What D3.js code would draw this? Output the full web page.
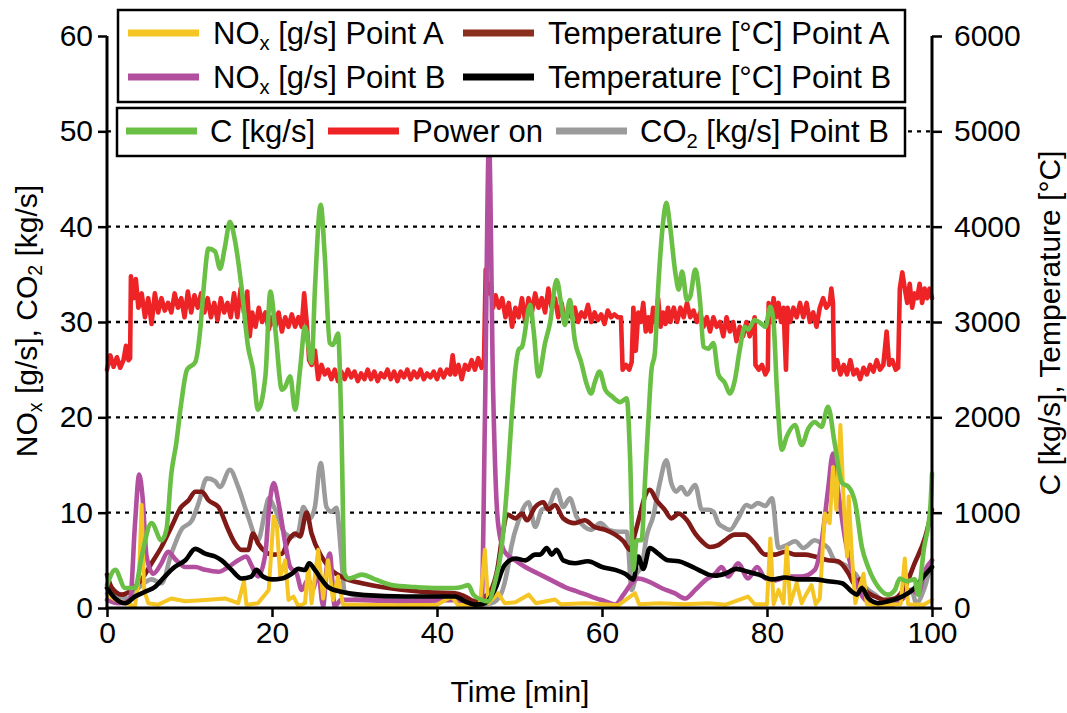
<!DOCTYPE html>
<html><head><meta charset="utf-8">
<script src="https://cdn.jsdelivr.net/npm/d3@7"></script>
<style>
html,body{margin:0;padding:0;background:#fff;}
text{font-family:"Liberation Sans",Arial,sans-serif;fill:#000;}
</style></head>
<body><svg id="c" width="1067" height="713"></svg>
<script>
// ---- data ----
const leftTicks = [0,10,20,30,40,50,60];
const rightTicks = [0,1000,2000,3000,4000,5000,6000];
const xTicks = [0,20,40,60,80,100];
const gridValues = [10,20,30,40,50];

// NOx [g/s] Point A (left axis)
const noxA = [[0,1.4],[1.0,0.85],[2.2,0.5],[3.4,0.2],[3.9,3.6],[4.2,10.8],[4.5,1.9],[5.0,0.5],[6.2,0.35],[7.8,1.0],[9.5,0.7],[11.9,0.85],[14.3,1.0],[15.9,0.5],[16.6,2.8],[16.9,0.35],[18.3,0.5],[19.6,1.9],[20.2,9.6],[20.6,8.5],[21.0,3.3],[21.6,5.0],[22.0,0.85],[22.6,1.2],[23.2,0.2],[24.0,0.5],[24.4,4.5],[24.8,0.5],[25.6,6.1],[26.2,1.0],[26.8,5.0],[27.4,0.85],[28.0,3.3],[28.6,0.35],[30,0.35],[35,0.3],[40,0.35],[41.8,1.2],[42.5,0.35],[45.2,0.3],[45.8,6.1],[46.2,0.5],[47.4,1.55],[48.2,0.5],[49.5,0.6],[51.1,1.4],[52,0.5],[54.3,0.9],[55,0.4],[58,0.5],[60,0.4],[62,0.3],[64,1.55],[64.5,0.4],[67,0.5],[70,0.4],[73,0.5],[75,0.35],[77.7,1.2],[78.5,0.4],[80.0,0.4],[80.4,7.3],[80.8,0.4],[81.4,1.9],[82.0,0.5],[82.4,6.4],[82.8,0.4],[83.6,2.6],[84.2,0.5],[84.6,1.2],[85.4,2.4],[85.9,0.4],[86.4,1.0],[87.0,9.9],[87.6,8.9],[88.0,14.8],[88.4,10.3],[88.9,19.2],[89.3,11.0],[89.7,5.4],[89.9,11.7],[90.3,5.4],[90.7,0.5],[91.7,3.6],[92.1,0.4],[94,0.35],[96.2,0.4],[96.7,5.2],[97.1,0.4],[99,0.35],[100,0.85]];

// NOx [g/s] Point B (left axis)
const noxB = [[0,0.85],[1.4,0.5],[2.8,0.85],[3.4,8.9],[3.9,14.0],[4.3,11.7],[4.8,5.4],[5.6,3.6],[6.6,4.7],[7.4,5.9],[8.4,5.0],[9.5,4.3],[10.7,4.3],[11.9,4.0],[13.5,3.8],[14.7,4.3],[15.9,5.0],[16.9,5.4],[17.5,4.5],[18.3,3.3],[19.2,5.7],[19.6,10.0],[20.2,13.1],[20.8,11.0],[21.6,6.8],[22.2,4.3],[23.0,3.6],[23.6,1.9],[24.4,3.0],[24.9,1.9],[25.6,3.6],[26.2,0.2],[26.6,4.0],[27.0,5.7],[27.6,0.2],[28.4,0.85],[30,0.85],[36,0.7],[42.2,0.85],[43.4,0.35],[45.4,0.2],[45.8,19.4],[46.3,49.0],[46.8,22.9],[47.4,8.9],[48.2,5.9],[49.5,5.0],[50.7,4.3],[52.3,3.6],[53.9,2.9],[55.5,2.2],[57.1,1.7],[58.7,1.2],[60.4,0.7],[61.6,0.35],[62.6,1.4],[63.6,2.6],[64.4,3.1],[65.6,2.8],[67.2,2.1],[68.8,1.55],[70.1,1.0],[71.3,1.9],[72.5,2.9],[73.7,3.6],[74.5,4.3],[75.3,3.3],[76.5,4.7],[77.7,3.1],[78.8,4.3],[79.8,3.1],[81.0,2.9],[82.6,3.3],[84.2,3.3],[85.8,4.0],[86.6,6.8],[87.4,12.4],[88.0,16.2],[88.6,12.4],[89.5,7.1],[90.7,2.9],[91.9,0.85],[93.1,0.35],[95.1,0.35],[96.3,0.85],[97.5,1.9],[98.3,1.55],[99.2,4.0],[100,5.0]];

// Temperature [°C] Point A (right axis)
const tempA = [[0,350],[0.6,210],[1.8,140],[3.0,190],[4.2,300],[5.4,470],[6.6,640],[7.8,850],[9.0,1060],[9.9,1130],[10.7,1220],[11.5,1220],[12.3,1130],[13.5,1060],[14.7,820],[15.5,680],[16.3,610],[17.1,610],[17.7,780],[18.3,680],[19.2,590],[20.0,560],[21.2,570],[22.0,710],[22.8,780],[23.4,750],[24.2,1000],[24.8,780],[26.0,540],[27.2,400],[28.8,310],[30.9,260],[34.1,210],[38.1,170],[42.2,155],[43.4,120],[44.6,70],[45.8,120],[46.5,180],[47.3,400],[48.0,800],[48.5,980],[49.5,940],[50.3,990],[50.9,920],[51.9,1060],[52.9,1110],[53.5,1030],[54.3,1080],[55.3,940],[56.7,890],[57.9,920],[59.1,850],[60.4,820],[61.6,770],[62.6,700],[63.4,610],[64.0,780],[64.6,980],[65.2,1170],[65.8,1240],[66.6,1130],[67.6,1030],[68.4,940],[69.3,990],[70.3,920],[71.3,780],[72.1,700],[73.1,640],[74.1,660],[74.9,710],[76.1,770],[77.3,770],[78.5,680],[79.8,560],[81.0,560],[82.2,590],[83.4,560],[84.6,560],[85.8,540],[87.4,500],[88.6,490],[89.9,360],[90.7,240],[91.3,300],[91.9,190],[93.1,120],[94.3,85],[95.5,100],[96.7,220],[97.9,470],[99.2,750],[100,1030]];

// Temperature [°C] Point B (right axis)
const tempB = [[0,210],[1.0,100],[2.2,50],[3.4,120],[4.6,170],[5.8,220],[7.0,330],[8.2,430],[9.5,500],[10.7,620],[11.9,570],[13.1,540],[13.9,500],[15.1,400],[16.3,310],[17.5,330],[18.1,400],[18.9,330],[20.0,300],[21.2,310],[22.4,360],[23.2,410],[24.0,400],[24.5,470],[25.2,400],[26.0,300],[26.8,220],[28.4,170],[31.3,135],[36.1,120],[42.2,120],[43.4,70],[44.6,35],[45.8,50],[47.0,190],[48.2,450],[49.5,520],[50.7,500],[51.9,560],[52.5,560],[53.3,630],[53.9,560],[54.5,610],[55.3,500],[56.7,470],[58.3,490],[60.0,430],[61.6,400],[62.8,360],[63.8,300],[64.4,540],[65.0,410],[65.8,630],[66.8,570],[68.0,500],[69.3,490],[70.5,450],[71.7,400],[72.9,350],[73.7,340],[74.9,360],[76.3,410],[77.7,380],[79.0,350],[80.6,300],[82.2,320],[83.8,300],[85.8,300],[87.4,280],[89.1,260],[90.3,170],[90.9,140],[91.5,210],[92.3,100],[93.5,50],[94.7,70],[95.9,100],[97.1,155],[97.9,210],[98.7,300],[100,430]];

// C [kg/s] (right axis)
const carbon = [[0,240],[1.0,400],[2.2,210],[3.4,210],[4.2,540],[5.4,890],[6.6,710],[7.2,820],[7.8,1410],[8.4,1730],[9.0,2150],[9.7,2500],[10.7,2580],[11.3,2920],[11.7,3340],[12.3,3770],[13.1,3740],[13.7,3560],[14.3,3790],[14.9,4050],[15.5,3860],[16.3,3370],[17.1,2740],[17.7,2500],[18.3,2080],[19.2,2430],[19.8,3320],[20.4,2920],[21.2,2290],[21.6,2320],[22.2,2430],[22.8,2080],[23.4,2500],[24.0,2950],[24.8,2570],[25.2,3340],[25.9,4230],[26.4,3690],[27.0,2780],[27.4,2760],[28.0,2880],[28.4,1940],[28.8,360],[29.3,310],[30.9,350],[32.5,300],[34.5,240],[37.3,220],[40.2,210],[42.2,210],[43.0,220],[43.8,240],[44.4,140],[45.4,85],[46.2,70],[47.0,260],[47.8,610],[48.6,1410],[49.0,1940],[49.5,2500],[49.9,2710],[50.3,2740],[51.3,3180],[51.7,2920],[52.3,2430],[53.1,2780],[53.7,2990],[54.5,3440],[55.1,3160],[55.5,2970],[56.1,3230],[56.7,2810],[57.5,2570],[58.1,2360],[58.7,2250],[59.1,2360],[59.7,2480],[60.4,2290],[61.2,2220],[62.2,2160],[63.0,2200],[63.4,1590],[63.8,400],[64.2,710],[64.8,710],[65.2,1310],[65.6,1940],[66.0,2500],[66.4,2670],[66.8,3340],[67.4,4040],[67.8,4250],[68.2,4040],[68.9,3510],[69.3,3340],[69.7,3530],[70.3,3230],[70.7,3270],[71.3,3550],[71.9,3200],[72.3,2740],[72.9,2720],[73.5,2780],[74.1,2450],[74.9,2360],[75.5,2250],[76.1,2390],[76.7,2710],[77.3,2950],[77.7,2920],[78.5,3020],[79.2,2990],[79.8,2950],[80.4,3160],[80.8,2990],[81.2,2290],[81.8,1660],[82.4,1800],[83.4,1920],[84.2,1710],[85.0,1880],[85.8,1950],[86.6,1900],[87.4,2110],[88.2,1730],[89.1,1310],[89.9,1270],[90.7,1100],[91.5,640],[92.3,420],[93.5,220],[94.7,140],[95.5,190],[96.1,310],[96.9,280],[97.9,300],[98.3,140],[99.0,610],[99.8,1060],[100,1410]];

// Power on (left axis)
const power = [[0,25],[0.4,26.5],[0.8,25.3],[1.2,26.3],[1.6,25.2],[2.0,26.0],[2.3,27.5],[2.6,26.0],[2.8,26.2],[2.9,34.8],[3.2,32.5],[3.5,34.5],[3.8,31.5],[4.2,33.0],[4.6,30.5],[5.0,32.5],[5.4,29.8],[5.8,33.0],[6.2,31.0],[6.6,32.5],[7.0,31.2],[7.4,32.0],[7.8,31.0],[8.2,33.0],[8.6,31.5],[9.0,32.5],[9.4,30.5],[9.8,33.2],[10.2,31.0],[10.6,32.8],[11.0,31.5],[11.4,33.0],[11.8,31.0],[12.2,32.5],[12.6,30.5],[13.0,32.0],[13.4,30.2],[13.8,32.5],[14.2,31.0],[14.6,32.0],[15.0,30.5],[15.4,33.0],[15.8,30.5],[16.2,33.5],[16.6,31.0],[17.0,33.2],[17.3,28.5],[17.6,31.0],[18.0,29.5],[18.4,31.5],[18.8,30.0],[19.2,31.0],[19.6,29.2],[20.0,30.5],[20.4,29.5],[20.8,31.0],[21.2,29.0],[21.6,30.5],[22.0,29.5],[22.4,30.8],[22.8,29.5],[23.2,30.5],[23.6,29.5],[23.9,33.0],[24.2,30.0],[24.5,26.0],[24.8,25.5],[25.2,27.0],[25.6,24.0],[26.0,25.5],[26.4,24.5],[26.8,25.0],[27.2,24.0],[27.6,25.0],[28.0,23.8],[28.4,24.8],[28.8,24.0],[29.2,25.0],[29.6,24.2],[30.0,24.8],[30.4,23.8],[30.8,24.6],[31.2,24.0],[31.6,25.0],[32.0,24.0],[32.4,24.8],[32.8,23.8],[33.2,24.6],[33.6,24.2],[34.0,25.0],[34.4,24.0],[34.8,24.8],[35.2,23.8],[35.6,24.8],[36.0,24.2],[36.4,25.0],[36.8,24.0],[37.2,24.8],[37.6,24.2],[38.0,25.0],[38.4,24.0],[38.8,24.6],[39.2,24.2],[39.6,24.8],[40.0,24.0],[40.4,25.0],[40.8,24.2],[41.2,25.0],[41.6,24.5],[41.9,26.5],[42.2,24.5],[42.6,25.5],[43.0,24.0],[43.4,25.5],[43.8,25.0],[44.2,26.0],[44.6,25.0],[45.0,26.2],[45.4,25.2],[45.7,26.0],[45.9,35.5],[46.2,33.0],[46.5,34.0],[46.8,31.5],[47.1,32.8],[47.5,31.5],[47.9,32.5],[48.3,30.5],[48.7,32.0],[49.1,29.5],[49.5,31.5],[49.9,30.5],[50.3,32.5],[50.7,30.0],[51.1,32.5],[51.5,31.0],[51.9,33.0],[52.3,31.5],[52.7,32.5],[53.1,31.0],[53.5,33.5],[53.9,31.5],[54.3,32.5],[54.7,30.5],[55.1,32.0],[55.5,30.0],[55.9,31.0],[56.3,30.5],[56.7,31.5],[57.1,30.0],[57.5,31.0],[57.9,30.5],[58.3,31.8],[58.7,30.0],[59.1,31.0],[59.5,30.2],[59.9,30.8],[60.3,29.8],[60.7,31.2],[61.1,30.5],[61.5,30.8],[61.9,30.5],[62.3,30.5],[62.5,25.0],[62.9,25.5],[63.3,25.0],[63.6,25.8],[63.8,31.5],[64.1,27.0],[64.4,31.0],[64.7,30.0],[65.0,32.0],[65.3,29.0],[65.6,30.5],[65.9,29.0],[66.2,31.5],[66.5,30.0],[66.8,32.5],[67.1,29.5],[67.4,31.0],[67.7,29.8],[68.0,31.5],[68.3,30.0],[68.7,31.5],[69.1,30.0],[69.5,31.5],[69.9,30.5],[70.3,32.0],[70.7,30.5],[71.1,31.2],[71.5,30.0],[71.9,31.0],[72.3,29.5],[72.7,30.5],[73.1,29.0],[73.5,30.5],[73.9,29.5],[74.3,30.0],[74.7,28.5],[75.1,30.5],[75.5,29.0],[75.9,30.0],[76.3,28.0],[76.7,29.5],[77.1,28.5],[77.5,30.0],[77.9,28.5],[78.3,29.5],[78.5,30.5],[78.6,25.5],[79.0,25.0],[79.4,25.5],[79.8,24.5],[80.1,25.0],[80.2,32.0],[80.5,30.0],[80.8,32.5],[81.1,30.5],[81.4,32.0],[81.7,30.0],[82.0,31.5],[82.3,25.0],[82.5,31.5],[82.8,30.0],[83.2,31.5],[83.6,30.5],[84.0,32.0],[84.4,30.5],[84.8,32.0],[85.2,30.0],[85.6,31.0],[86.0,29.5],[86.4,31.5],[86.8,32.5],[87.2,31.5],[87.6,32.0],[87.8,33.5],[88.0,32.0],[88.1,25.0],[88.5,26.0],[88.9,24.5],[89.3,25.5],[89.7,24.5],[90.1,26.0],[90.5,24.5],[90.9,25.0],[91.3,24.0],[91.7,25.2],[92.1,24.5],[92.5,25.5],[92.9,24.8],[93.3,26.0],[93.7,25.0],[94.1,25.5],[94.5,29.0],[94.8,25.5],[95.2,26.0],[95.6,25.0],[95.9,25.2],[96.1,33.5],[96.4,35.2],[96.7,33.5],[97.0,32.0],[97.3,34.0],[97.6,31.5],[97.9,33.0],[98.2,32.5],[98.5,34.0],[98.8,32.0],[99.1,33.5],[99.4,32.5],[99.7,33.5],[100,32.5]];

// CO2 [kg/s] Point B (left axis)
const co2B = [[0,1.5],[1.5,1.2],[2.5,1.0],[3.8,2.1],[5.4,3.0],[6.6,2.6],[7.8,5.7],[9.0,8.2],[10.3,9.2],[11.1,11.0],[12.1,13.6],[13.1,13.3],[13.7,12.7],[14.9,14.5],[15.9,12.7],[17.1,9.6],[18.3,7.1],[19.2,10.3],[19.6,11.5],[20.4,10.3],[21.6,7.8],[22.4,7.5],[23.2,8.0],[23.8,10.6],[24.6,9.4],[25.2,10.6],[25.9,15.2],[26.6,10.6],[27.2,10.1],[27.8,10.5],[28.4,5.4],[28.8,1.7],[32.1,1.0],[36.1,0.85],[42.2,0.85],[45.0,0.35],[46.6,0.5],[47.8,1.55],[48.6,4.3],[49.0,6.4],[49.9,9.2],[51.1,11.1],[51.9,8.5],[52.7,10.3],[53.5,10.6],[54.5,12.4],[55.3,10.6],[56.1,11.5],[56.9,9.6],[57.9,8.5],[58.7,8.2],[59.8,8.9],[60.8,8.2],[62.0,8.0],[63.0,8.0],[63.6,1.9],[64.2,3.6],[64.8,4.3],[65.4,7.5],[66.2,9.6],[67.0,13.1],[67.8,15.5],[68.4,13.1],[69.0,12.2],[69.6,12.7],[70.3,11.9],[71.3,12.9],[72.1,10.3],[72.9,10.3],[73.5,10.1],[74.1,8.9],[74.7,8.5],[75.5,8.2],[76.5,9.4],[77.5,10.8],[78.1,10.6],[78.9,11.0],[79.8,10.7],[80.6,11.5],[81.4,6.3],[82.4,6.6],[83.4,7.0],[84.4,6.3],[85.8,7.1],[86.6,6.8],[87.4,6.3],[88.2,5.0],[89.5,4.5],[90.7,3.6],[91.9,2.2],[93.1,1.4],[94.3,0.7],[95.5,0.85],[96.7,1.4],[97.5,1.9],[98.1,0.5],[99.0,1.9],[100,5.0]];

// ---- drawing ----
const svg = d3.select("#c");
const X0=107, X1=932, Y0=608, Y1=36;
const x = d3.scaleLinear().domain([0,100]).range([X0,X1]);
const yL = d3.scaleLinear().domain([0,60]).range([Y0,Y1]);
const yR = d3.scaleLinear().domain([0,6000]).range([Y0,Y1]);
const FT = 30;   // tick labels
const FA = 30;   // axis titles
const FL = 31;   // legend

// gridlines
svg.append("g").selectAll("line").data(gridValues).join("line")
  .attr("x1",X0).attr("x2",X1).attr("y1",d=>yL(d)).attr("y2",d=>yL(d))
  .attr("stroke","#000").attr("stroke-width",2.4).attr("stroke-dasharray","4,5");

const colors = {noxA:"#f5c523", noxB:"#b24f9f", tempA:"#7f1a17", tempB:"#000000", carbon:"#6abf45", power:"#ee2326", co2:"#9b9b9b"};

const lineL = d3.line().x(d=>x(d[0])).y(d=>yL(d[1]));
const lineLs = d3.line().x(d=>x(d[0])).y(d=>yL(d[1])).curve(d3.curveMonotoneX);
const lineRs = d3.line().x(d=>x(d[0])).y(d=>yR(d[1])).curve(d3.curveMonotoneX);

const plot = svg.append("g").attr("fill","none").attr("stroke-width",4.6).attr("stroke-linejoin","round").attr("stroke-linecap","round");
plot.append("path").attr("d",lineL(power)).attr("stroke",colors.power);
plot.append("path").attr("d",lineLs(co2B)).attr("stroke",colors.co2);
plot.append("path").attr("d",lineRs(tempA)).attr("stroke",colors.tempA);
plot.append("path").attr("d",lineLs(noxB)).attr("stroke",colors.noxB);
plot.append("path").attr("d",lineL(noxA)).attr("stroke",colors.noxA).attr("stroke-width",4);
plot.append("path").attr("d",lineRs(tempB)).attr("stroke",colors.tempB);
plot.append("path").attr("d",lineRs(carbon)).attr("stroke",colors.carbon);

// axes
const axL = d3.axisLeft(yL).tickValues(leftTicks).tickSize(9).tickPadding(5).tickFormat(d3.format("d"));
const axR = d3.axisRight(yR).tickValues(rightTicks).tickSize(10).tickPadding(12).tickFormat(d3.format("d"));
const axB = d3.axisBottom(x).tickValues(xTicks).tickSize(9).tickPadding(5).tickFormat(d3.format("d"));
function style(g){
  g.select(".domain").remove();
  g.selectAll(".tick line").attr("stroke","#000").attr("stroke-width",2.5);
  g.selectAll(".tick text").attr("font-size",FT).attr("font-family","Liberation Sans, Arial, sans-serif").attr("fill","#000");
}
svg.append("g").attr("transform",`translate(${X0},0)`).call(axL).call(style);
svg.append("g").attr("transform",`translate(${X1},0)`).call(axR).call(style);
svg.append("g").attr("transform",`translate(0,${Y0})`).call(axB).call(style);
// axis lines
svg.append("line").attr("x1",X0).attr("x2",X0).attr("y1",Y1).attr("y2",Y0+1.5).attr("stroke","#000").attr("stroke-width",3);
svg.append("line").attr("x1",X1).attr("x2",X1).attr("y1",Y1).attr("y2",Y0+1.5).attr("stroke","#000").attr("stroke-width",3);
svg.append("line").attr("x1",X0-1.5).attr("x2",X1+1.5).attr("y1",Y0).attr("y2",Y0).attr("stroke","#000").attr("stroke-width",3);

// axis titles
svg.append("text").attr("x",520).attr("y",702).attr("text-anchor","middle").attr("font-size",FA).text("Time [min]");
const lt = svg.append("text").attr("transform","translate(37,321) rotate(-90)").attr("text-anchor","middle").attr("font-size",FA);
lt.append("tspan").text("NO");
lt.append("tspan").attr("font-size",FA*0.65).attr("dy",5).text("x");
lt.append("tspan").attr("dy",-5).text(" [g/s], CO");
lt.append("tspan").attr("font-size",FA*0.65).attr("dy",5).text("2");
lt.append("tspan").attr("dy",-5).text(" [kg/s]");
svg.append("text").attr("transform","translate(1060,323) rotate(-90)").attr("text-anchor","middle").attr("font-size",FA).text("C [kg/s], Temperature [°C]");

// legends
function legendText(g, parts){
  const t = g.append("text").attr("font-size",FL).attr("dy","0.35em");
  parts.forEach(p=>{
    const s = t.append("tspan").text(p.t);
    if(p.sub){ s.attr("font-size",FL*0.65).attr("dy",6); }
    if(p.after){ s.attr("dy",-6); }
  });
  return t;
}
const lg1 = svg.append("g");
lg1.append("rect").attr("x",118).attr("y",10).attr("width",787).attr("height",92).attr("fill","#fff").attr("stroke","#000").attr("stroke-width",2.5);
const items1 = [
  {x:128, y:33, color:colors.noxA, parts:[{t:"NO"},{t:"x",sub:true},{t:" [g/s] Point A",after:true}]},
  {x:463, y:33, color:"#8b2f1f", parts:[{t:"Temperature [°C] Point A"}]},
  {x:128, y:77, color:colors.noxB, parts:[{t:"NO"},{t:"x",sub:true},{t:" [g/s] Point B",after:true}]},
  {x:463, y:77, color:"#000", parts:[{t:"Temperature [°C] Point B"}]}
];
items1.forEach(it=>{
  const g = lg1.append("g").attr("transform",`translate(${it.x},${it.y})`);
  g.append("line").attr("x1",0).attr("x2",71).attr("y1",0).attr("y2",0).attr("stroke",it.color).attr("stroke-width",7);
  legendText(g,it.parts).attr("x",85);
});
const lg2 = svg.append("g");
lg2.append("rect").attr("x",117).attr("y",108).attr("width",788).attr("height",48).attr("fill","#fff").attr("stroke","#000").attr("stroke-width",2.5);
const items2 = [
  {x:126, color:colors.carbon, parts:[{t:"C [kg/s]"}]},
  {x:328, color:colors.power, parts:[{t:"Power on"}]},
  {x:556, color:colors.co2, parts:[{t:"CO"},{t:"2",sub:true},{t:" [kg/s] Point B",after:true}]}
];
items2.forEach(it=>{
  const g = lg2.append("g").attr("transform",`translate(${it.x},131)`);
  g.append("line").attr("x1",0).attr("x2",71).attr("y1",0).attr("y2",0).attr("stroke",it.color).attr("stroke-width",7);
  legendText(g,it.parts).attr("x",84);
});
</script></body></html>
